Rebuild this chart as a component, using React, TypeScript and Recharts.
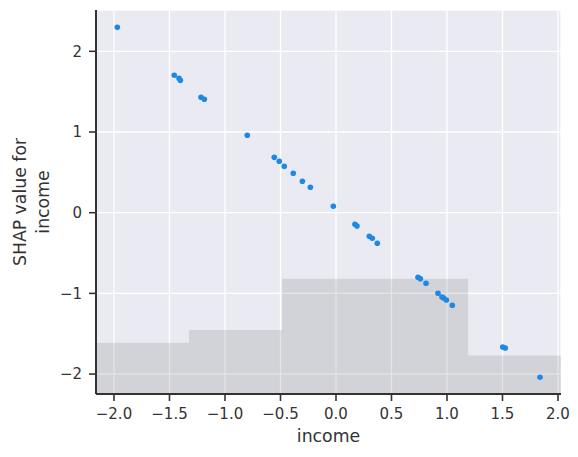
import React from "react"
import {
  ComposedChart,
  Scatter,
  Area,
  XAxis,
  YAxis,
  CartesianGrid,
  Label,
} from "recharts"

// feature value (income) and SHAP value per sample
const incomeValues = [
  -1.97, -1.457, -1.414, -1.402, -1.216, -1.186, -0.799, -0.556, -0.511, -0.466,
  -0.385, -0.303, -0.231, -0.024, 0.171, 0.189, 0.3, 0.327, 0.372, 0.739,
  0.76, 0.811, 0.919, 0.955, 0.97, 0.994, 1.048, 1.502, 1.525, 1.838,
]
const shapValues = [
  2.297, 1.703, 1.665, 1.64, 1.43, 1.405, 0.959, 0.686, 0.637, 0.575,
  0.488, 0.389, 0.315, 0.079, -0.143, -0.165, -0.292, -0.317, -0.379, -0.801,
  -0.818, -0.875, -0.999, -1.045, -1.057, -1.082, -1.148, -1.664, -1.677, -2.04,
]

// background histogram of income (5 bins)
const binEdges = [-2.162, -1.324, -0.486, 0.352, 1.19, 2.027]
const binCounts = [4, 5, 9, 9, 3]

const xTicks = [-2, -1.5, -1, -0.5, 0, 0.5, 1, 1.5, 2]
const yTicks = [-2, -1, 0, 1, 2]

const points = incomeValues.map((x, i) => ({ x, y: shapValues[i] }))
const histData = binEdges.map((x, i) => ({
  x,
  count: binCounts[Math.min(i, binCounts.length - 1)],
}))

const FONT = "'DejaVu Sans', 'Liberation Sans', sans-serif"
const INK = "#333333"
const minus = (s: string) => s.replace("-", "\u2212")

const tickStyle = { fontSize: 15, fill: INK, fontFamily: FONT, style: { fontFamily: FONT, fontSize: "15px" } }
const labelStyle = { fontFamily: FONT, fontSize: "17.3px", fill: INK }

function Dot(props: any) {
  return <circle cx={props.cx} cy={props.cy} r={2.8} fill="#1E88E5" />
}

export default function App() {
  return (
    <div style={{ position: "absolute", left: 0, top: 0, fontFamily: FONT }}>
      <ComposedChart
        width={578}
        height={457}
        margin={{ top: 10, right: 17, bottom: 0, left: 0 }}
      >
        <CartesianGrid fill="#eaeaf2" stroke="#ffffff" strokeWidth={1.3} />
        <XAxis
          type="number"
          dataKey="x"
          domain={[binEdges[0], binEdges[binEdges.length - 1]]}
          allowDataOverflow
          ticks={xTicks}
          tickFormatter={(v: number) => minus(v.toFixed(1))}
          height={63}
          tickSize={7}
          tickMargin={7}
          axisLine={{ stroke: INK, strokeWidth: 2 }}
          tickLine={{ stroke: INK, strokeWidth: 1.6 }}
          tick={tickStyle}
        >
          <Label
            content={() => (
              <text x={328.5} y={442} textAnchor="middle" style={labelStyle}>
                income
              </text>
            )}
          />
        </XAxis>
        <YAxis
          type="number"
          dataKey="y"
          domain={[-2.247, 2.512]}
          allowDataOverflow
          ticks={yTicks}
          tickFormatter={(v: number) => minus(String(v))}
          width={96}
          tickSize={7}
          tickMargin={7}
          axisLine={{ stroke: INK, strokeWidth: 2 }}
          tickLine={{ stroke: INK, strokeWidth: 1.6 }}
          tick={tickStyle}
        >
          <Label
            content={() => (
              <text transform="translate(0,202) rotate(-90)" textAnchor="middle" style={labelStyle}>
                <tspan x={0} y={26}>SHAP value for</tspan>
                <tspan x={0} y={49}>income</tspan>
              </text>
            )}
          />
        </YAxis>
        <YAxis yAxisId="hist" dataKey="count" domain={[0, 30]} hide />
        <Area
          yAxisId="hist"
          data={histData}
          dataKey="count"
          type="stepAfter"
          fill="#000000"
          fillOpacity={0.1}
          stroke="none"
          isAnimationActive={false}
          dot={false}
          activeDot={false}
        />
        <Scatter data={points} dataKey="y" shape={<Dot />} isAnimationActive={false} />
      </ComposedChart>
    </div>
  )
}
